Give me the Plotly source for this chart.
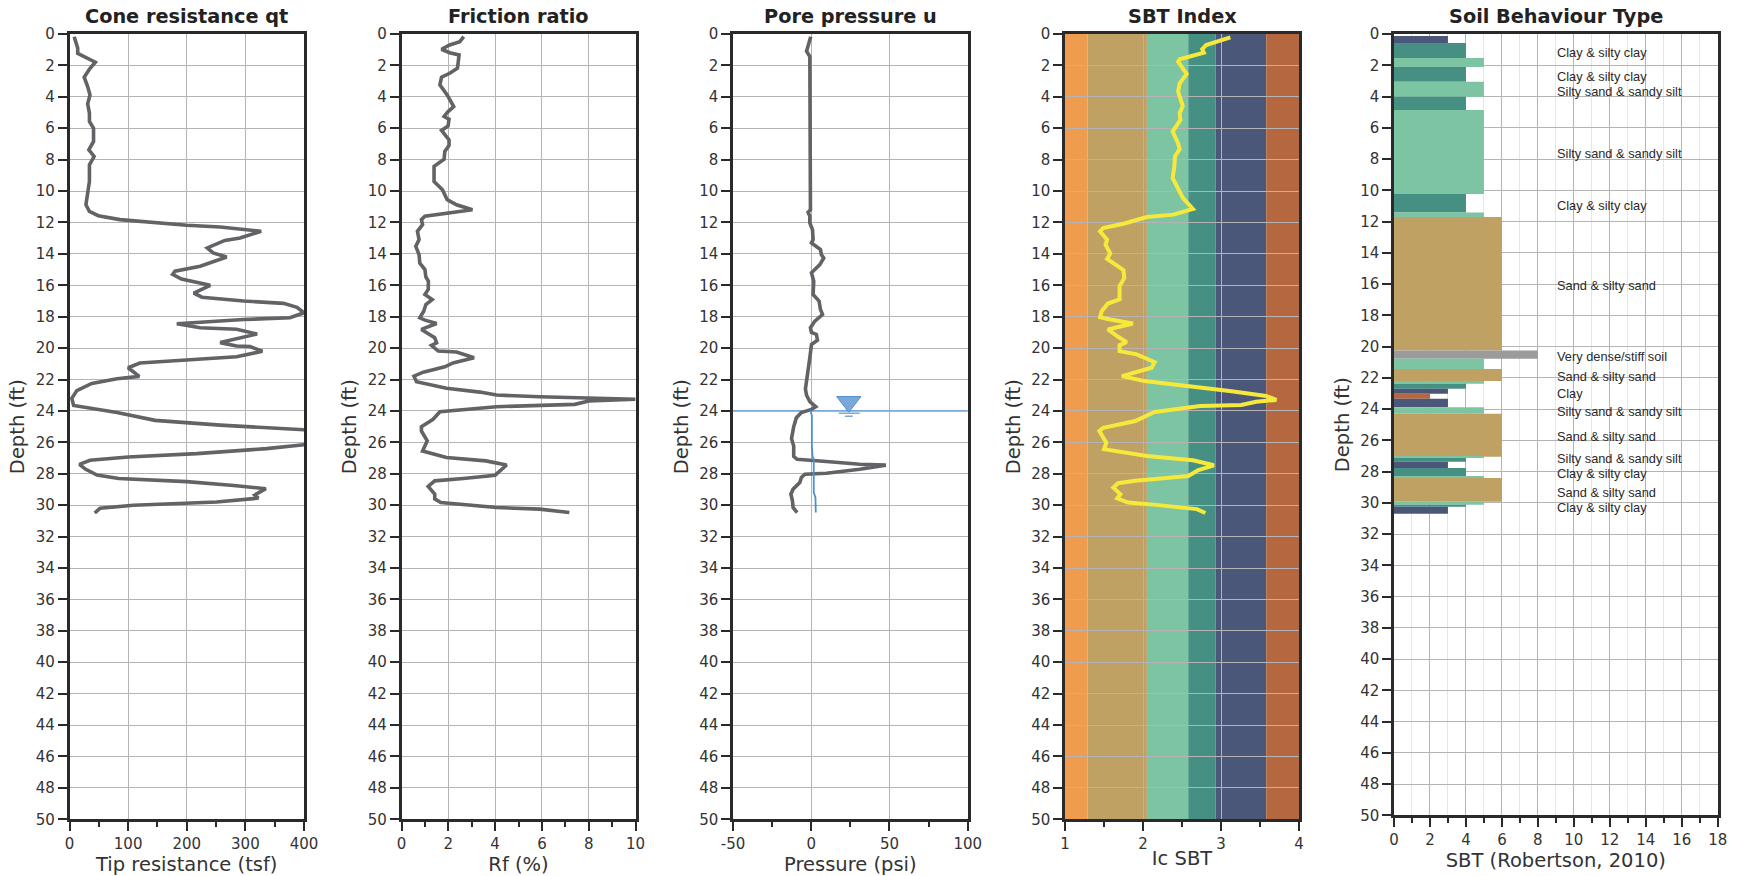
import plotly.graph_objects as go

W, H = 1741, 876
qt_depth = [0.17,0.6,0.9,1.23,1.44,1.8,2.18,2.75,3.35,3.88,4.45,5.04,5.57,6.0,6.84,7.37,7.8,8.33,9.39,10.34,10.87,11.3,11.57,11.82,12.0,12.18,12.29,12.56,12.99,13.14,13.62,13.94,14.2,14.79,15.1,15.3,15.6,16.0,16.5,16.76,17.0,17.15,17.4,17.75,18.07,18.18,18.45,18.7,18.8,19.1,19.65,19.87,19.9,20.2,20.55,20.75,20.95,21.25,21.8,21.95,22.25,22.7,23.2,23.65,24.1,24.6,24.9,25.2,25.65,26.15,26.4,26.72,26.93,27.14,27.4,27.7,28.08,28.3,28.5,28.75,28.95,29.35,29.55,29.8,30.0,30.2,30.5]
qt_values = [8,11,14,14,24,44,35,25,31,35,31,34,34,41,41,33,42,34,34,31,28,34,49,86,137,200,257,327,291,265,235,245,268,223,180,176,191,240,212,226,297,365,388,400,376,297,183,223,285,320,257,285,308,329,285,200,120,100,119,81,38,12.5,4,7,81,146,257,400,560,400,336,217,100,35,17,27,47,84,200,280,335,316,322,251,109,52,43]

rf_depth = [0.17,0.49,0.7,0.97,1.19,1.33,2.18,2.5,2.75,3.24,3.88,4.62,4.94,5.25,5.42,5.85,6.14,6.74,7.1,7.48,7.97,8.43,9.39,9.92,10.55,10.87,11.19,11.44,11.6,11.82,12.14,12.56,13.09,13.52,14.05,14.58,15.0,15.47,15.74,16.27,16.59,16.91,17.22,17.65,18.07,18.22,18.43,18.81,19.34,19.66,19.83,20.19,20.25,20.61,20.94,21.19,21.53,21.78,22.14,22.56,22.8,22.99,23.1,23.26,23.37,23.58,23.73,24.05,24.53,25.0,25.28,25.9,26.55,26.97,27.18,27.44,28.09,28.3,28.45,28.81,29.3,29.6,29.83,30.15,30.25,30.47]
rf_values = [2.66,2.49,2.06,1.71,2.06,2.46,2.39,2.06,1.71,1.64,1.95,2.23,1.99,1.82,2.03,1.99,1.71,2.03,2.03,1.85,1.82,1.39,1.39,1.75,1.95,2.35,3.03,1.92,1.0,0.85,0.9,0.68,0.75,0.61,0.75,0.78,1.0,1.04,1.15,1.14,1.0,1.31,1.04,0.95,0.78,1.0,1.5,0.85,1.42,1.5,1.28,1.57,2.35,3.1,2.2,1.85,0.93,0.53,0.64,1.92,3.35,4.06,5.9,10,8.0,7.4,4.06,1.64,1.35,0.85,0.85,1.1,0.9,1.92,3.6,4.49,4.0,2.64,1.42,1.14,1.42,1.42,1.68,4.06,5.9,7.17]

u_depth = [0.17,0.6,1.1,1.44,11.19,11.36,11.6,12.03,12.46,13.09,13.3,13.73,14.05,14.26,14.68,15.2,15.74,16.59,17.0,17.54,17.86,18.28,18.7,19.0,19.13,19.49,19.77,20.61,21.25,22.1,22.6,23.0,23.4,23.73,23.9,24.1,24.43,25.0,25.77,26.23,26.9,27.08,27.22,27.39,27.45,27.71,27.97,28.03,28.24,28.56,28.98,29.3,29.72,30.15,30.47]
u_values = [-0.3,-1.6,-3,-0.9,-0.5,-2,-0.9,-0.9,0.8,1.2,0.15,5.9,6.5,8,5.5,0.15,1.6,1.2,5,5.9,7.2,2.3,-0.5,0.15,3.3,4,0.15,-0.9,-1.6,-3,-3.7,-3,-0.9,2.9,0.15,-6.3,-9.5,-11.2,-12.6,-11.2,-11.2,-9,9.7,31,47.7,31,9.7,-4.1,-6.3,-7.3,-11.6,-13,-12,-11.6,-9]
u0_depth = [23.94,24.3,26.2,26.87,27.08,29.2,29.5,30.47]
u0_values = [-0.5,0.4,0.4,0.8,1.6,1.6,2.7,2.9]
water_depth = 24
water_range = [-50, 100]
water_symbol = [24, 23.42]
water_bar1 = [[17.6, 31], [24.15, 24.15]]
water_bar2 = [[21.5, 26.5], [24.34, 24.34]]

ic_depth = [0.21,0.7,0.97,1.19,1.61,1.76,2.54,3.14,3.67,4.58,5.04,5.47,6.21,6.95,7.33,7.8,8.54,9.17,10.44,11.14,11.5,11.65,12.08,12.35,12.56,13.09,13.41,13.98,14.32,15.04,15.53,16.06,16.48,16.9,17.16,17.65,18.03,18.18,18.43,18.81,19.28,19.62,19.81,20.19,20.4,20.89,21.25,21.78,22.1,22.42,22.73,23.05,23.3,23.41,23.62,23.69,24.07,24.64,25.07,25.28,26.02,26.44,26.87,27.14,27.46,27.76,28.14,28.45,28.6,28.88,29.3,29.56,29.83,29.98,30.25,30.5]
ic_values = [3.12,2.81,2.76,2.78,2.47,2.45,2.56,2.47,2.45,2.51,2.47,2.48,2.38,2.45,2.47,2.41,2.4,2.38,2.51,2.64,2.39,2.05,1.75,1.49,1.45,1.54,1.52,1.58,1.54,1.75,1.76,1.7,1.7,1.7,1.55,1.47,1.45,1.58,1.87,1.55,1.68,1.79,1.7,1.7,1.92,2.15,2.11,1.73,2.02,2.6,3.11,3.58,3.71,3.45,3.26,2.73,2.15,1.9,1.49,1.44,1.53,1.5,2.05,2.64,2.91,2.71,2.58,1.9,1.68,1.62,1.71,1.67,1.81,2.17,2.69,2.8]
ic_edges = [1, 1.29, 2.05, 2.58, 2.93, 3.58, 4]
ic_colors = ["#f09c4f", "#bfa163", "#7cc4a2", "#458f83", "#4a5778", "#b5673f"]

sbt_top = [0.13,0.58,1.54,2.11,3.05,4.01,4.86,10.24,11.43,11.71,20.26,20.79,21.44,22.2,22.39,22.71,23.03,23.35,23.89,24.31,27.06,27.13,27.38,27.77,28.28,28.41,29.94,30.13,30.26]
sbt_bottom = [0.58,1.54,2.11,3.05,4.01,4.86,10.24,11.43,11.71,20.26,20.79,21.44,22.2,22.39,22.71,23.03,23.35,23.89,24.31,27.06,27.13,27.38,27.77,28.28,28.41,29.94,30.13,30.26,30.71]
sbt_zone = [3,4,5,4,5,4,5,4,5,6,8,5,6,5,4,3,2,3,5,6,5,4,3,4,5,6,5,4,3]
zone_colors = {2: "#b5673f", 3: "#4a5778", 4: "#458f83", 5: "#7cc4a2", 6: "#bfa163", 8: "#9b9b9b"}

label_depth = [1.19,2.69,3.65,7.63,10.96,16.12,20.65,21.92,23.0,24.18,25.78,27.19,28.15,29.32,30.33]
label_text = ["Clay & silty clay","Clay & silty clay","Silty sand & sandy silt","Silty sand & sandy silt","Clay & silty clay","Sand & silty sand","Very dense/stiff soil","Sand & silty sand","Clay","Silty sand & sandy silt","Sand & silty sand","Silty sand & sandy silt","Clay & silty clay","Sand & silty sand","Clay & silty clay"]
label_x = 8.98

depth_ticks = list(range(0, 51, 2))
titles = ["Cone resistance qt", "Friction ratio", "Pore pressure u", "SBT Index", "Soil Behaviour Type"]
x_titles = ["Tip resistance (tsf)", "Rf (%)", "Pressure (psi)", "Ic SBT", "SBT (Robertson, 2010)"]
x_ranges = [[0, 400], [0, 10], [-50, 100], [1, 4], [0, 18]]
x_ticks = [[0,100,200,300,400], [0,2,4,6,8,10], [-50,0,50,100], [1,2,3,4], list(range(0,19,2))]
x_minor = [50, 1, 25, 0.5, 1]

frames = [(69.5,304,34,819.3),(401.5,635.6,34,819.3),(733,967.7,34,819.3),(1065,1299,34,819.3),(1394,1717.7,34,815.3)]

LINE = "#636367"
DARK = "#2a2a2a"
GRID = "#b4b4b4"
FONT = "DejaVu Sans"

fig = go.Figure()
fig.add_trace(go.Scatter(x=qt_values, y=qt_depth, mode="lines", line=dict(color=LINE, width=3.6), xaxis="x", yaxis="y", showlegend=False))
fig.add_trace(go.Scatter(x=rf_values, y=rf_depth, mode="lines", line=dict(color=LINE, width=3.6), xaxis="x2", yaxis="y2", showlegend=False))
fig.add_trace(go.Scatter(x=water_range, y=[water_depth]*2, mode="lines", line=dict(color="#7ba7d9", width=1.8), xaxis="x3", yaxis="y3", showlegend=False))
fig.add_trace(go.Scatter(x=u_values, y=u_depth, mode="lines", line=dict(color=LINE, width=3.6), xaxis="x3", yaxis="y3", showlegend=False))
fig.add_trace(go.Scatter(x=u0_values, y=u0_depth, mode="lines", line=dict(color="#4a90d0", width=1.8), xaxis="x3", yaxis="y3", showlegend=False))
fig.add_trace(go.Scatter(x=[water_symbol[0]], y=[water_symbol[1]], mode="markers", marker=dict(symbol="triangle-down", size=21, color="#7ba7d9", line=dict(color="#4f8fd0", width=1)), xaxis="x3", yaxis="y3", showlegend=False))
for b in (water_bar1, water_bar2):
    fig.add_trace(go.Scatter(x=b[0], y=b[1], mode="lines", line=dict(color="#7ba7d9", width=1.5), xaxis="x3", yaxis="y3", showlegend=False))
fig.add_trace(go.Scatter(x=ic_values, y=ic_depth, mode="lines", line=dict(color="#f7e93c", width=4), xaxis="x4", yaxis="y4", showlegend=False))
fig.add_trace(go.Bar(
    x=sbt_zone,
    y=[(a + b) / 2 for a, b in zip(sbt_top, sbt_bottom)],
    width=[b - a for a, b in zip(sbt_top, sbt_bottom)],
    orientation="h", marker=dict(color=[zone_colors[z] for z in sbt_zone], line=dict(width=0)),
    xaxis="x5", yaxis="y5", showlegend=False))

layout = dict(width=W, height=H, margin=dict(l=0, r=0, t=0, b=0), paper_bgcolor="white", plot_bgcolor="white",
              font=dict(family=FONT, color="#333333"), barmode="overlay", showlegend=False, annotations=[], shapes=[])
for i in range(5):
    l, r, t, b = frames[i]
    sfx = "" if i == 0 else str(i + 1)
    xa = dict(domain=[l / W, r / W], range=x_ranges[i], anchor="y" + sfx, side="bottom", automargin=False,
              tickmode="array", tickvals=x_ticks[i], ticktext=[str(v) for v in x_ticks[i]],
              ticks="outside", ticklen=9, tickwidth=1.5, tickcolor=DARK, tickfont=dict(size=15, family=FONT, color="#333333"),
              showgrid=True, gridcolor=GRID, gridwidth=1.3, zeroline=False,
              showline=True, mirror=True, linecolor=DARK, linewidth=2.5,
              title=dict(text=x_titles[i], font=dict(size=19.5, family=FONT, color="#333333"), standoff=0),
              minor=dict(dtick=x_minor[i], tick0=x_ranges[i][0], ticks="outside", ticklen=5, tickwidth=1.5, tickcolor=DARK,
                         showgrid=(i == 4), gridcolor="#e6e6e6", gridwidth=1))
    ya = dict(domain=[1 - b / H, 1 - t / H], range=[50, 0], anchor="x" + sfx, automargin=False,
              tickmode="array", tickvals=depth_ticks, ticktext=[str(v) for v in depth_ticks],
              ticks="outside", ticklen=9, tickwidth=1.5, tickcolor=DARK, tickfont=dict(size=15, family=FONT, color="#333333"),
              showgrid=True, gridcolor=GRID, gridwidth=1.3, zeroline=False,
              showline=True, mirror=True, linecolor=DARK, linewidth=2.5,
              title=dict(text="Depth (ft)", font=dict(size=19.5, family=FONT, color="#333333"), standoff=6))
    layout["xaxis" + sfx] = xa
    layout["yaxis" + sfx] = ya
    layout["annotations"].append(dict(text="<b>%s</b>" % titles[i], xref="paper", yref="paper", x=(l + r) / 2 / W, y=1 - 16 / H,
                                      xanchor="center", yanchor="middle", showarrow=False,
                                      font=dict(size=19.3, family=FONT, color="#222222")))
for k in range(6):
    layout["shapes"].append(dict(type="rect", xref="x4", yref="y4", x0=ic_edges[k], x1=ic_edges[k + 1], y0=0, y1=50,
                                 fillcolor=ic_colors[k], line=dict(width=0), layer="below"))
for d, s in zip(label_depth, label_text):
    layout["annotations"].append(dict(text=s, xref="x5", yref="y5", x=label_x, y=d, xanchor="left", yanchor="middle", showarrow=False,
                                      font=dict(size=12.8, family="Liberation Sans", color="#2a2a2a")))
fig.update_layout(**layout)
fig.write_html("out.html", config={"displayModeBar": False}, post_script="document.body.style.margin='0';document.body.style.overflow='hidden';")
